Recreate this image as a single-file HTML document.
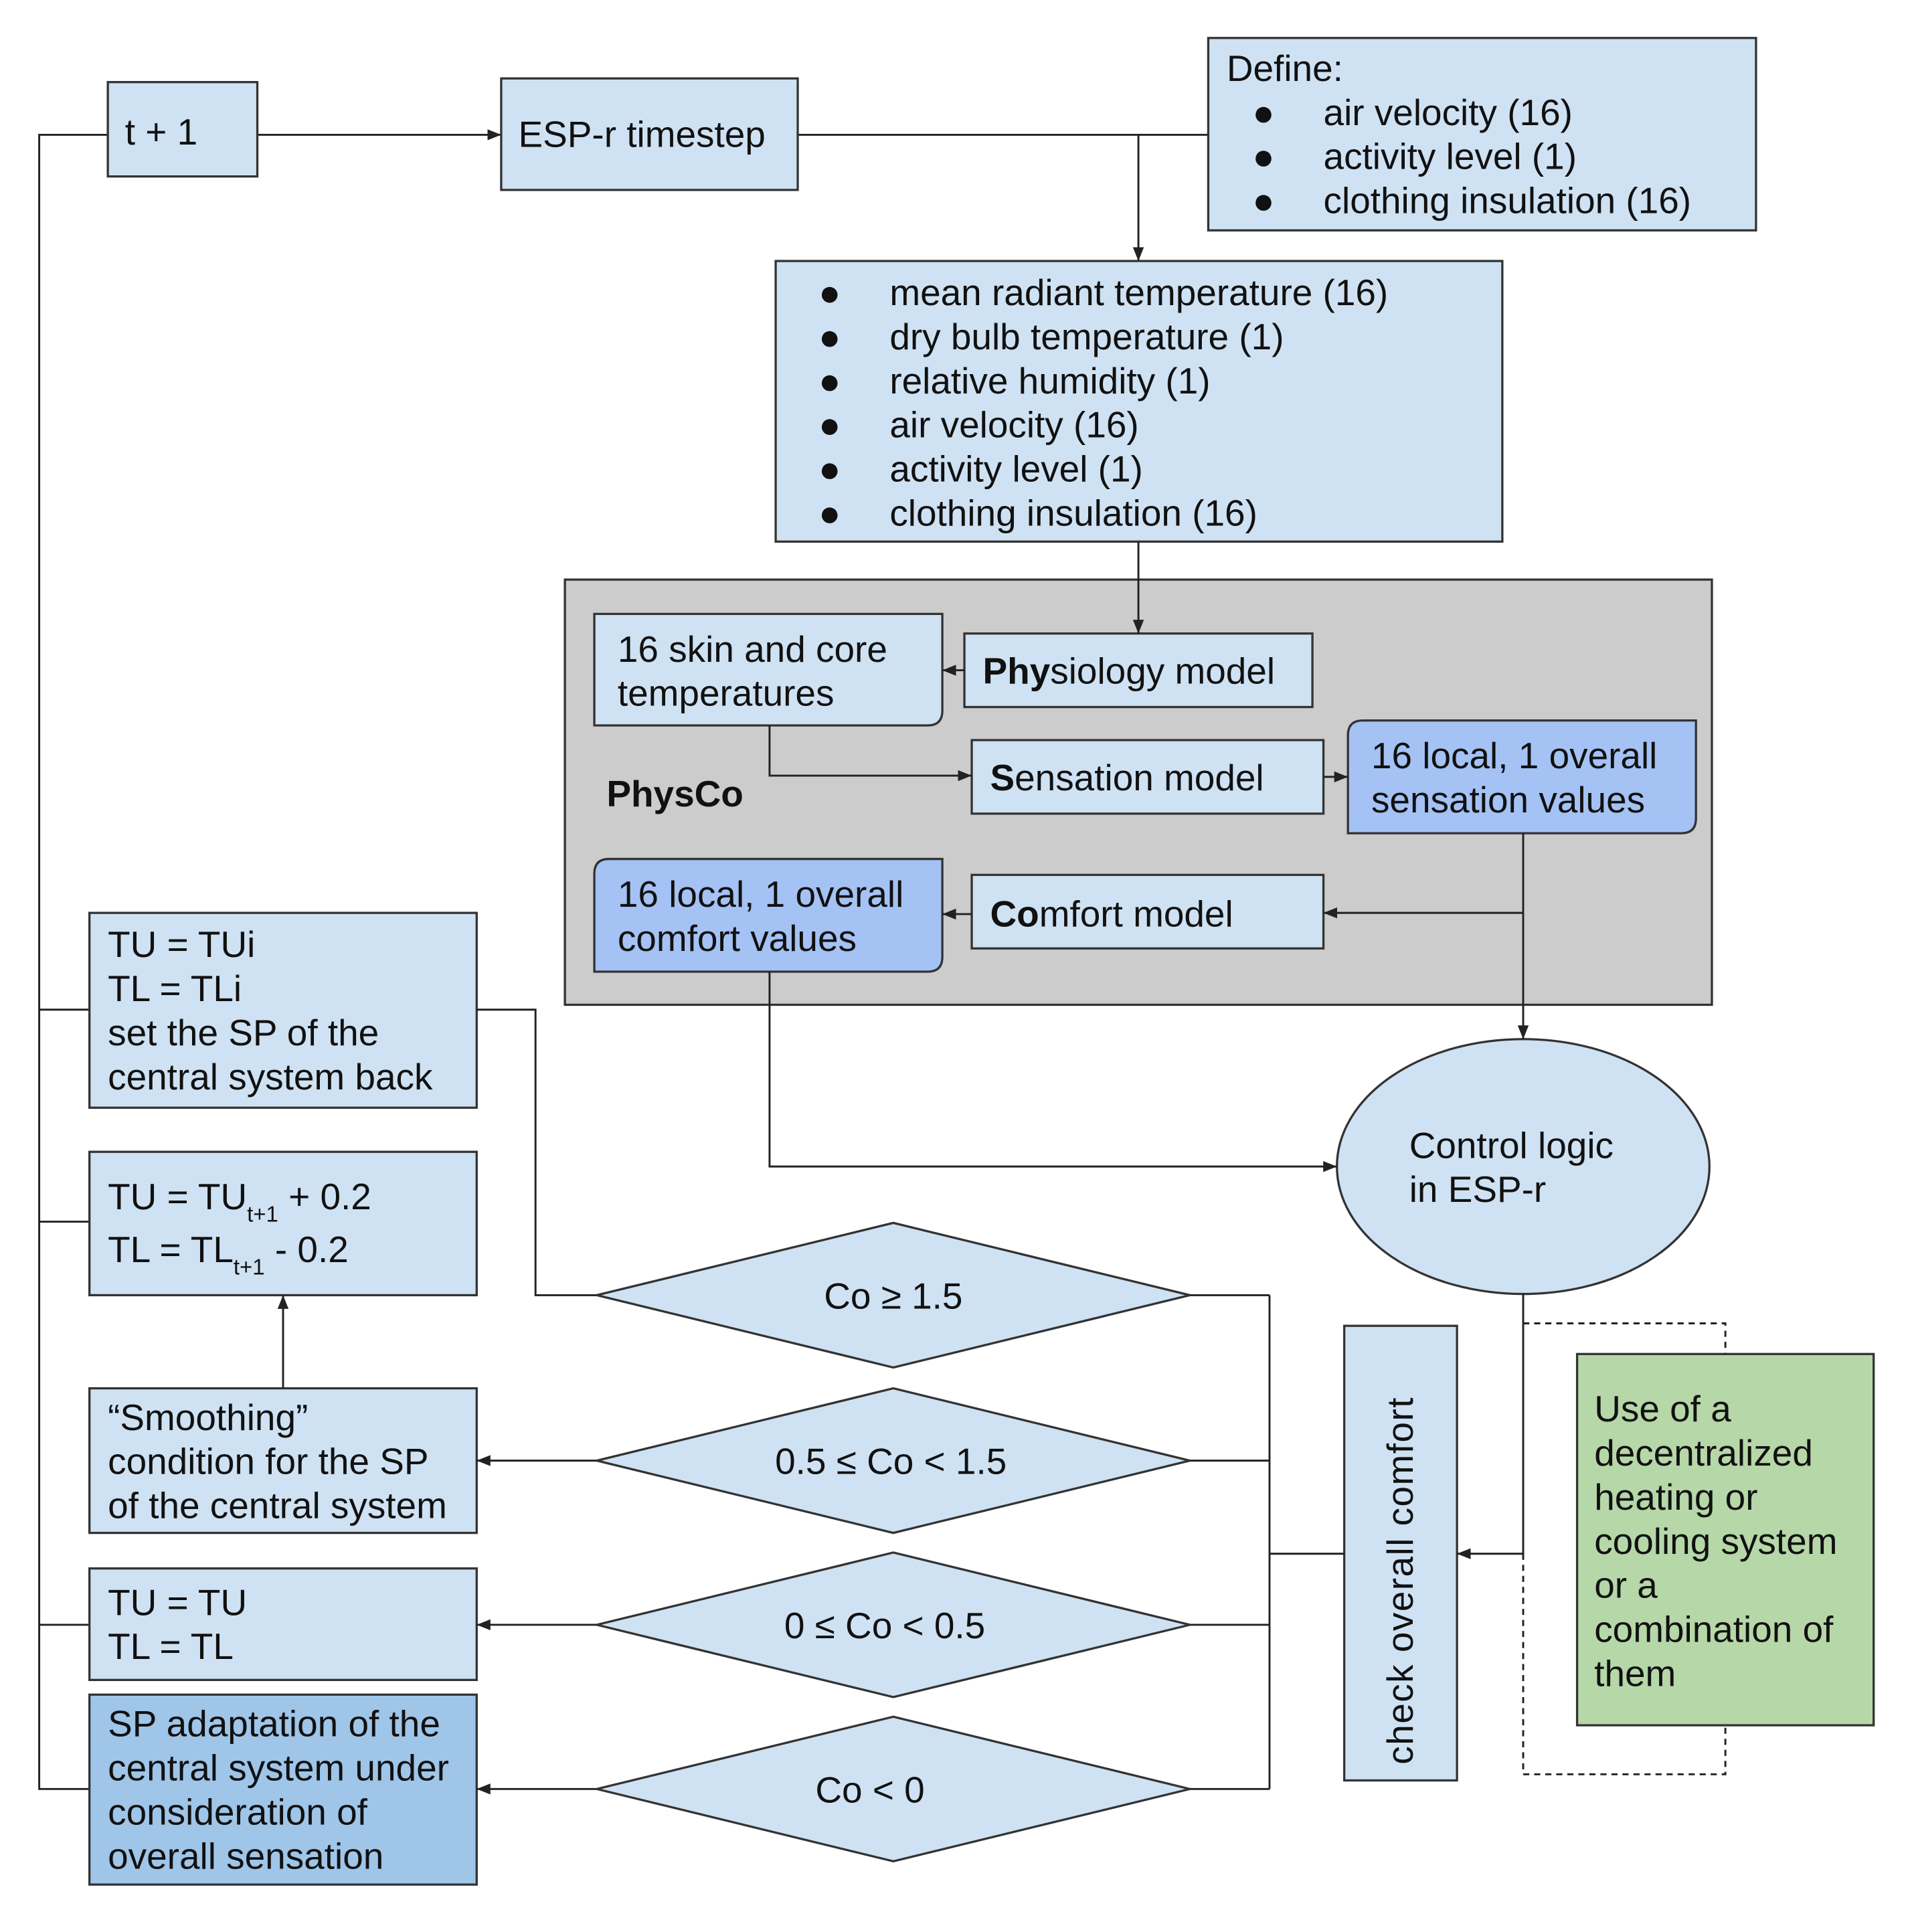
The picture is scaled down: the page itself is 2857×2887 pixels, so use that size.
<!DOCTYPE html>
<html><head><meta charset="utf-8"><style>html,body{margin:0;padding:0;background:#fff}svg{display:block}text{font-family:"Liberation Sans",Arial,sans-serif;font-size:30px;fill:#111}</style></head>
<body>
<svg width="2857" height="2887" viewBox="0 0 1560.3 1576.7" preserveAspectRatio="none" xmlns="http://www.w3.org/2000/svg">
<defs><marker id="a" viewBox="0 0 10 10" refX="10" refY="5" markerWidth="7" markerHeight="7" orient="auto"><path d="M0,1 L10,5 L0,9 z" fill="#222"/></marker></defs>
<g stroke="#222" stroke-width="1.6" fill="none">
<path d="M88,110 H32 V1460 H73"/>
<path d="M32,824 H73 M32,997 H73 M32,1326 H73"/>
<path d="M210,110 H409" marker-end="url(#a)"/>
<path d="M651,110 H986"/>
<path d="M929,110 V213" marker-end="url(#a)"/>
</g>
<g stroke="#333" stroke-width="1.8">
<rect x="88" y="67" width="122" height="77" fill="#cfe2f3"/>
<rect x="409" y="64" width="242" height="91" fill="#cfe2f3"/>
<rect x="986" y="31" width="447" height="157" fill="#cfe2f3"/>
<rect x="633" y="213" width="593" height="229" fill="#cfe2f3"/>
<rect x="461" y="473" width="936" height="347" fill="#cccccc"/>
<path d="M485,501 H769 V580 Q769,592 757,592 H485 Z" fill="#cfe2f3"/>
<rect x="787" y="517" width="284" height="60" fill="#cfe2f3"/>
<rect x="793" y="604" width="287" height="60" fill="#cfe2f3"/>
<path d="M1112,588 H1384 V668 Q1384,680 1372,680 H1100 V600 Q1100,588 1112,588 Z" fill="#a4c2f4"/>
<rect x="793" y="714" width="287" height="60" fill="#cfe2f3"/>
<path d="M497,701 H769 V781 Q769,793 757,793 H485 V713 Q485,701 497,701 Z" fill="#a4c2f4"/>
<ellipse cx="1243" cy="952" rx="152" ry="104" fill="#cfe2f3"/>
<rect x="1097" y="1082" width="92" height="371" fill="#cfe2f3"/>
<rect x="1287" y="1105" width="242" height="303" fill="#b6d7a8"/>
<rect x="73" y="745" width="316" height="159" fill="#cfe2f3"/>
<rect x="73" y="940" width="316" height="117" fill="#cfe2f3"/>
<rect x="73" y="1133" width="316" height="118" fill="#cfe2f3"/>
<rect x="73" y="1280" width="316" height="91" fill="#cfe2f3"/>
<rect x="73" y="1383" width="316" height="155" fill="#9fc5e8"/>
<polygon points="487,1057 729,998 971,1057 729,1116" fill="#cfe2f3"/>
<polygon points="487,1192 729,1133 971,1192 729,1251" fill="#cfe2f3"/>
<polygon points="487,1326 729,1267 971,1326 729,1385" fill="#cfe2f3"/>
<polygon points="487,1460 729,1401 971,1460 729,1519" fill="#cfe2f3"/>
</g>
<g stroke="#222" stroke-width="1.6" fill="none">
<path d="M929,442 V517" marker-end="url(#a)"/>
<path d="M787,547 H769" marker-end="url(#a)"/>
<path d="M628,592 V633 H793" marker-end="url(#a)"/>
<path d="M1080,634 H1100" marker-end="url(#a)"/>
<path d="M1243,680 V848" marker-end="url(#a)"/>
<path d="M1243,745 H1080" marker-end="url(#a)"/>
<path d="M793,746 H769" marker-end="url(#a)"/>
<path d="M628,793 V952 H1091" marker-end="url(#a)"/>
<path d="M1243,1056 V1268 H1189" marker-end="url(#a)"/>
<path d="M1097,1268 H1036 M1036,1057 V1460 M971,1057 H1036 M971,1192 H1036 M971,1326 H1036 M971,1460 H1036"/>
<path d="M487,1057 H437 V824 H389"/>
<path d="M487,1192 H389" marker-end="url(#a)"/>
<path d="M487,1326 H389" marker-end="url(#a)"/>
<path d="M487,1460 H389" marker-end="url(#a)"/>
<path d="M231,1133 V1057" marker-end="url(#a)"/>
<path d="M1243,1080 H1408 V1105 M1243,1268 V1448 H1408 V1408" stroke-dasharray="5,4"/>
</g>
<text x="102" y="118">t + 1</text>
<text x="423" y="120">ESP-r timestep</text>
<text x="1001" y="66">Define:</text>
<g><text x="1022" y="102">●</text><text x="1080" y="102">air velocity (16)</text>
<text x="1022" y="138">●</text><text x="1080" y="138">activity level (1)</text>
<text x="1022" y="174">●</text><text x="1080" y="174">clothing insulation (16)</text></g>
<g><text x="668" y="249">●</text><text x="726" y="249">mean radiant temperature (16)</text>
<text x="668" y="285">●</text><text x="726" y="285">dry bulb temperature (1)</text>
<text x="668" y="321">●</text><text x="726" y="321">relative humidity  (1)</text>
<text x="668" y="357">●</text><text x="726" y="357">air velocity (16)</text>
<text x="668" y="393">●</text><text x="726" y="393">activity level (1)</text>
<text x="668" y="429">●</text><text x="726" y="429">clothing insulation (16)</text></g>
<text x="504" y="540">16 skin and core</text>
<text x="504" y="576">temperatures</text>
<text x="802" y="558"><tspan font-weight="bold">Phy</tspan>siology model</text>
<text x="808" y="645"><tspan font-weight="bold">S</tspan>ensation model</text>
<text x="1119" y="627">16 local, 1 overall</text>
<text x="1119" y="663">sensation values</text>
<text x="495" y="658" font-weight="bold">PhysCo</text>
<text x="808" y="756"><tspan font-weight="bold">Co</tspan>mfort model</text>
<text x="504" y="740">16 local, 1 overall</text>
<text x="504" y="776">comfort values</text>
<text x="1150" y="945">Control logic</text>
<text x="1150" y="981">in ESP-r</text>
<text transform="translate(1153,1440) rotate(-90)" font-size="28" letter-spacing="0.8">check overall comfort</text>
<text x="1301" y="1160">Use of a</text>
<text x="1301" y="1196">decentralized</text>
<text x="1301" y="1232">heating or</text>
<text x="1301" y="1268">cooling system</text>
<text x="1301" y="1304">or a</text>
<text x="1301" y="1340">combination of</text>
<text x="1301" y="1376">them</text>
<text x="88" y="781">TU = TUi</text>
<text x="88" y="817">TL = TLi</text>
<text x="88" y="853">set the SP of the</text>
<text x="88" y="889">central system back</text>
<text x="88" y="987">TU = TU<tspan font-size="18" dy="10">t+1</tspan><tspan dy="-10"> + 0.2</tspan></text>
<text x="88" y="1030">TL = TL<tspan font-size="18" dy="10">t+1</tspan><tspan dy="-10"> - 0.2</tspan></text>
<text x="88" y="1167">“Smoothing”</text>
<text x="88" y="1203">condition for the SP</text>
<text x="88" y="1239">of the central system</text>
<text x="88" y="1318">TU = TU</text>
<text x="88" y="1354">TL = TL</text>
<text x="88" y="1417">SP adaptation of the</text>
<text x="88" y="1453">central system under</text>
<text x="88" y="1489">consideration of</text>
<text x="88" y="1525">overall sensation</text>
<text x="729" y="1068" text-anchor="middle">Co ≥ 1.5</text>
<text x="727" y="1203" text-anchor="middle">0.5 ≤ Co &lt; 1.5</text>
<text x="722" y="1337" text-anchor="middle">0 ≤ Co &lt; 0.5</text>
<text x="710" y="1471" text-anchor="middle">Co &lt; 0</text>
</svg>
</body></html>
